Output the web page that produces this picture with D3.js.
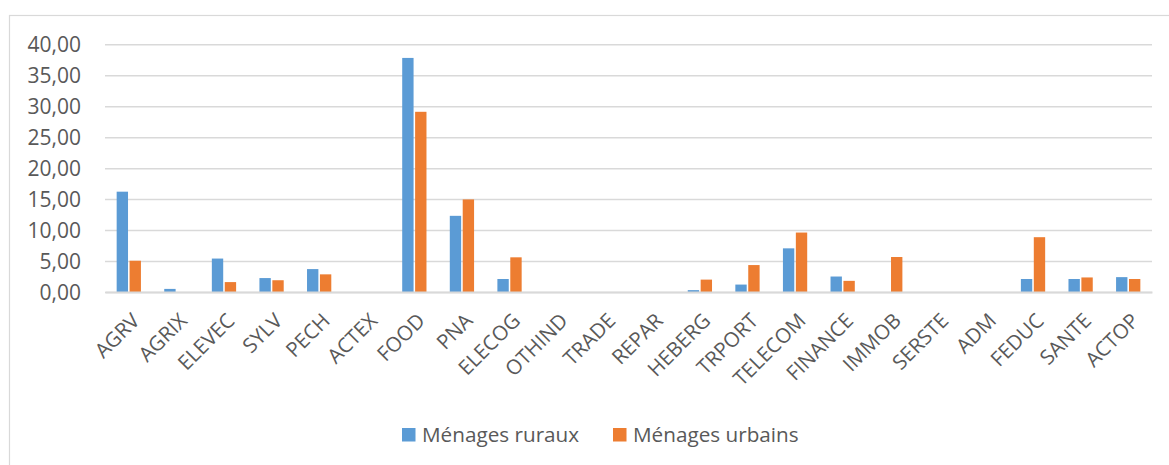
<!DOCTYPE html>
<html>
<head>
<meta charset="utf-8">
<script src="https://cdn.jsdelivr.net/npm/d3@7"></script>
<style>
    body { margin: 0; background: #fff; }
    svg { display: block; font-family: "Open Sans", sans-serif; }
</style>
</head>
<body>
<svg id="chart" width="1169" height="465"></svg>
<script>
const categories = ["AGRV", "AGRIX", "ELEVEC", "SYLV", "PECH", "ACTEX", "FOOD", "PNA", "ELECOG", "OTHIND", "TRADE",
    "REPAR", "HEBERG", "TRPORT", "TELECOM", "FINANCE", "IMMOB", "SERSTE", "ADM", "FEDUC", "SANTE", "ACTOP"];
const ruraux = [16.2, 0.5, 5.4, 2.25, 3.7, 0, 37.8, 12.3, 2.1, 0, 0,
    0, 0.3, 1.2, 7.05, 2.5, 0, 0, 0, 2.1, 2.1, 2.4];
const urbains = [5.05, 0, 1.6, 1.9, 2.85, 0, 29.1, 14.95, 5.6, 0, 0,
    0, 2.0, 4.35, 9.6, 1.8, 5.65, 0, 0, 8.85, 2.35, 2.1];
const seriesNames = ["Ménages ruraux", "Ménages urbains"];
const yTicks = [0, 5, 10, 15, 20, 25, 30, 35, 40];

drawChart();

function drawChart() {
    const svg = d3.select("#chart");
    const font = '"Open Sans", sans-serif';
    const colors = ["#5b9bd5", "#ed7d31"];
    const textColor = "#595959";
    const gridColor = "#d9d9d9";

    const left = 105, right = 1152, top = 44.3, bottom = 292;

    const data = categories.map((cat, i) => ({ cat, values: [ruraux[i], urbains[i]] }));

    // outer chart frame
    svg.append("rect")
        .attr("x", 9.5)
        .attr("y", 15.5)
        .attr("width", 1200)
        .attr("height", 500)
        .attr("fill", "none")
        .attr("stroke", gridColor)
        .attr("stroke-width", 1.2);

    const x0 = d3.scaleBand()
        .domain(categories)
        .range([left, right])
        .padding(0);

    const groupW = x0.bandwidth() * 0.51;
    const x1 = d3.scaleBand()
        .domain([0, 1])
        .range([0, groupW])
        .paddingInner(0.12);

    const y = d3.scaleLinear()
        .domain([0, 40])
        .range([bottom, top]);

    // gridlines + y labels
    const yAxis = svg.append("g")
        .attr("transform", `translate(${left},0)`)
        .call(d3.axisLeft(y)
            .tickValues(yTicks)
            .tickSize(-(right - left))
            .tickPadding(24)
            .tickFormat(d => d.toFixed(2).replace(".", ",")))
        .attr("font-family", font)
        .attr("font-size", 21);
    yAxis.select(".domain").remove();
    yAxis.selectAll("line")
        .attr("stroke", gridColor)
        .attr("stroke-width", 1.5);
    yAxis.selectAll("text")
        .attr("fill", textColor)
        .attr("dy", "0.36em");

    // bars
    const groups = svg.append("g")
        .selectAll("g")
        .data(data)
        .join("g")
        .attr("transform", d => `translate(${x0(d.cat) + (x0.bandwidth() - groupW) / 2},0)`);

    groups.selectAll("rect")
        .data(d => d.values.map((v, k) => ({ k, v })))
        .join("rect")
        .attr("x", d => x1(d.k))
        .attr("y", d => y(d.v))
        .attr("width", x1.bandwidth())
        .attr("height", d => y(0) - y(d.v))
        .attr("fill", d => colors[d.k]);

    // category axis
    const xAxis = svg.append("g")
        .attr("transform", `translate(0,${y(0)})`)
        .call(d3.axisBottom(x0).tickSize(0))
        .attr("font-family", font)
        .attr("font-size", 20.5);
    xAxis.select(".domain")
        .attr("stroke", gridColor)
        .attr("stroke-width", 2);
    xAxis.selectAll("text")
        .attr("y", 0)
        .attr("dy", 0)
        .attr("transform", "translate(12,30) rotate(-45)")
        .style("text-anchor", "end")
        .attr("fill", textColor);

    // legend
    const legendX = [402, 613];
    const legend = svg.append("g")
        .selectAll("g")
        .data(seriesNames)
        .join("g")
        .attr("transform", (d, i) => `translate(${legendX[i]},428)`);

    legend.append("rect")
        .attr("width", 13.5)
        .attr("height", 13.5)
        .attr("fill", (d, i) => colors[i]);

    legend.append("text")
        .attr("x", 20)
        .attr("y", 14)
        .attr("fill", textColor)
        .attr("font-family", font)
        .attr("font-size", 20.7)
        .text(d => d);
}
</script>
</body>
</html>
